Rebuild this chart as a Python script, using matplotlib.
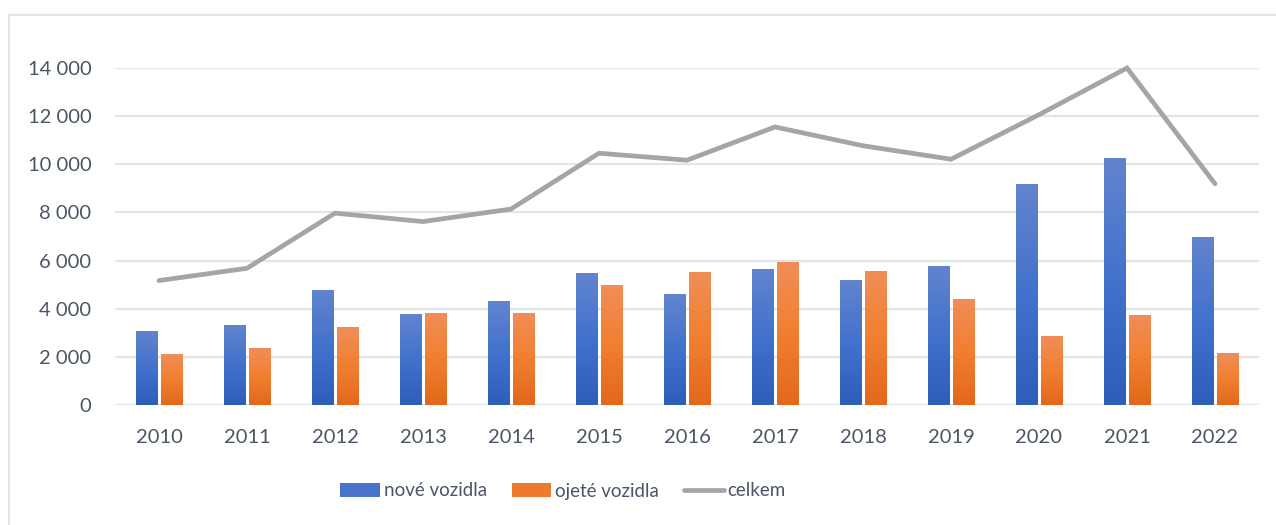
import numpy as np
import matplotlib.pyplot as plt
from matplotlib.colors import LinearSegmentedColormap
from matplotlib.lines import Line2D
from matplotlib.patches import Patch
from matplotlib.ticker import FuncFormatter

years = ['2010', '2011', '2012', '2013', '2014', '2015', '2016',
         '2017', '2018', '2019', '2020', '2021', '2022']
nove = [3080, 3330, 4780, 3790, 4320, 5490, 4620, 5650, 5200, 5780, 9190, 10270, 6990]
ojete = [2120, 2370, 3240, 3830, 3830, 4990, 5530, 5950, 5570, 4410, 2870, 3740, 2160]
celkem = [5170, 5680, 7970, 7620, 8140, 10460, 10170, 11550, 10770, 10210, 12060, 14000, 9190]

text_col = '#4A5568'
grid_col = '#E1E4E9'
blue_cmap = LinearSegmentedColormap.from_list('b', ['#2D5FB8', '#4272CB', '#6384CF'])
orange_cmap = LinearSegmentedColormap.from_list('o', ['#E2681A', '#F27F30', '#F08E58'])

plt.rcParams['font.family'] = ['Lato', 'DejaVu Sans']

fig = plt.figure(figsize=(12.76, 5.25), dpi=100)
ax = fig.add_axes([115 / 1276, 120 / 525, 1144 / 1276, 337 / 525])

# chart border (top and left visible)
fig.add_artist(Line2D([9 / 1276, 9 / 1276], [0, 510 / 525], color=grid_col, lw=1.5))
fig.add_artist(Line2D([9 / 1276, 1], [510 / 525, 510 / 525], color=grid_col, lw=1.5))

x = np.arange(len(years))
w = 0.24
off = 0.142


def gradient_bars(xs, vals, cmap):
    bars = ax.bar(xs, vals, width=w, color='none', edgecolor='none', zorder=2)
    grad = np.linspace(1, 0, 256).reshape(-1, 1)
    for b in bars:
        x0, y0 = b.get_x(), b.get_y()
        im = ax.imshow(grad, cmap=cmap, aspect='auto', zorder=2,
                       extent=[x0, x0 + b.get_width(), y0, y0 + b.get_height()])
        im.set_clip_path(b)


gradient_bars(x - off, nove, blue_cmap)
gradient_bars(x + off, ojete, orange_cmap)
ax.plot(x, celkem, color='#A5A5A5', lw=3.4, solid_capstyle='round',
        solid_joinstyle='miter', zorder=3, clip_on=False)

ax.set_xlim(-0.5, len(years) - 0.5)
ax.set_ylim(0, 14000)
ax.set_yticks(range(0, 14001, 2000))
ax.yaxis.set_major_formatter(FuncFormatter(lambda v, p: f'{int(v):,}'.replace(',', ' ')))
ax.set_xticks(x)
ax.set_xticklabels(years)
ax.grid(axis='y', color=grid_col, lw=1.5, zorder=0)
ax.set_axisbelow(True)
for s in ax.spines.values():
    s.set_visible(False)
ax.tick_params(axis='both', length=0, labelsize=14.5, labelcolor=text_col)
ax.tick_params(axis='y', pad=17)
ax.tick_params(axis='x', pad=17)

handles = [Patch(facecolor='#4A74C9', edgecolor='none'),
           Patch(facecolor='#EE7A30', edgecolor='none'),
           Line2D([0], [0], color='#A5A5A5', lw=3.4, solid_capstyle='round')]
fig.legend(handles, ['nové vozidla', 'ojeté vozidla', 'celkem'],
           loc='center', bbox_to_anchor=(563 / 1276, 1 - 491 / 525), ncol=3,
           frameon=False, fontsize=13.5, labelcolor=text_col,
           handlelength=2.1, handleheight=0.85, handletextpad=0.2,
           columnspacing=1.35)

fig.savefig('out.png', dpi=100, facecolor='white')
